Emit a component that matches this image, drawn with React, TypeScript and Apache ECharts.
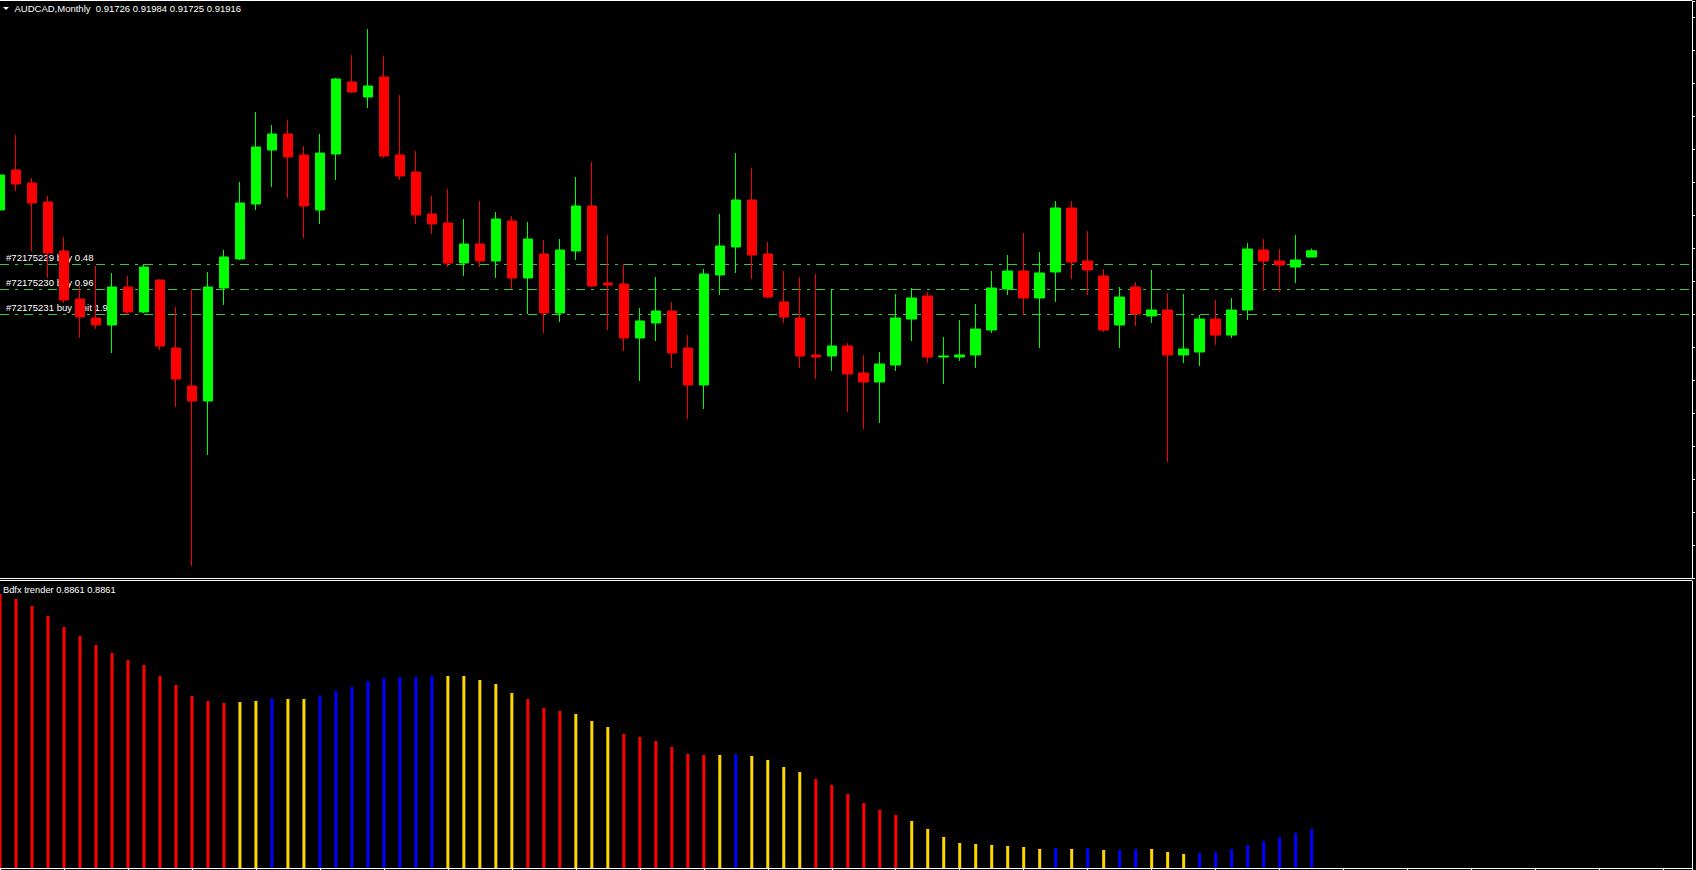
import React, { useEffect, useRef } from "react";
import * as echarts from "echarts";

// ---------- data ----------
const symbolName = "AUDCAD";
const periodName = "Monthly";

const opens = [
  0.93152, 0.94364, 0.9397, 0.93394, 0.91909, 0.90455, 0.89879, 0.89667, 0.90818, 0.90061,
  0.9103, 0.8897, 0.87818, 0.87364, 0.90788, 0.91667, 0.93333, 0.9497, 0.95455, 0.94818,
  0.93152, 0.94848, 0.9703, 0.96576, 0.97182, 0.94818, 0.94303, 0.9303, 0.92758, 0.91545,
  0.92121, 0.91606, 0.92818, 0.91091, 0.91818, 0.9003, 0.91909, 0.93273, 0.90939, 0.90909,
  0.89273, 0.89727, 0.90091, 0.8897, 0.87848, 0.91182, 0.9203, 0.93455, 0.91818, 0.90364,
  0.89879, 0.88758, 0.88727, 0.8903, 0.88212, 0.87939, 0.88455, 0.89848, 0.90545, 0.88697,
  0.88697, 0.88758, 0.89515, 0.90758, 0.91303, 0.90485, 0.91273, 0.93212, 0.91606, 0.91152,
  0.89667, 0.90818, 0.89939, 0.90121, 0.88758, 0.88848, 0.89848, 0.89364, 0.90121, 0.91939,
  0.91606, 0.91424, 0.91726,
];
const highs = [
  0.94273, 0.95424, 0.94121, 0.93576, 0.92333, 0.90848, 0.91455, 0.91242, 0.91152, 0.91515,
  0.9105, 0.90212, 0.90758, 0.91273, 0.91939, 0.94, 0.96121, 0.95727, 0.95879, 0.95091,
  0.95455, 0.97152, 0.97848, 0.98636, 0.97818, 0.96636, 0.94939, 0.93576, 0.93788, 0.92879,
  0.93424, 0.93091, 0.9297, 0.92788, 0.92242, 0.92273, 0.94152, 0.94606, 0.92394, 0.91515,
  0.90182, 0.91121, 0.90364, 0.89364, 0.91364, 0.9303, 0.94879, 0.94424, 0.92182, 0.91303,
  0.91121, 0.91212, 0.90758, 0.89121, 0.88758, 0.88848, 0.90606, 0.90788, 0.90667, 0.89303,
  0.89818, 0.90303, 0.91303, 0.91788, 0.92455, 0.91879, 0.93424, 0.93424, 0.92515, 0.91364,
  0.90818, 0.9097, 0.91333, 0.90636, 0.90606, 0.8997, 0.90424, 0.90485, 0.92152, 0.92273,
  0.9197, 0.92394, 0.91984,
];
const lows = [
  0.93091, 0.93727, 0.91909, 0.91091, 0.90333, 0.89273, 0.89545, 0.88818, 0.8997, 0.9003,
  0.88909, 0.87182, 0.82364, 0.85727, 0.90273, 0.91636, 0.93152, 0.93848, 0.93515, 0.92303,
  0.92727, 0.94061, 0.96697, 0.96242, 0.94727, 0.94061, 0.92727, 0.92424, 0.91424, 0.91152,
  0.91424, 0.91091, 0.90758, 0.9, 0.89424, 0.89758, 0.91636, 0.90818, 0.89515, 0.88879,
  0.8797, 0.89182, 0.88364, 0.86818, 0.87121, 0.90576, 0.91242, 0.91061, 0.90485, 0.89727,
  0.88364, 0.8803, 0.88273, 0.8703, 0.86515, 0.86697, 0.88273, 0.89182, 0.88515, 0.87879,
  0.88576, 0.88364, 0.89424, 0.90576, 0.8997, 0.8897, 0.90364, 0.91061, 0.90576, 0.89455,
  0.8897, 0.89636, 0.89727, 0.85515, 0.88515, 0.88424, 0.89061, 0.89273, 0.89818, 0.90697,
  0.90667, 0.90939, 0.91725,
];
const closes = [
  0.94212, 0.93939, 0.93364, 0.91848, 0.90424, 0.89909, 0.89667, 0.90818, 0.90061, 0.91424,
  0.8903, 0.8803, 0.87364, 0.90818, 0.91727, 0.93364, 0.95061, 0.95455, 0.94758, 0.93273,
  0.94879, 0.97121, 0.96727, 0.96909, 0.94788, 0.94182, 0.93, 0.92727, 0.91545, 0.92121,
  0.91606, 0.92879, 0.91091, 0.92273, 0.9003, 0.91939, 0.93273, 0.90848, 0.90879, 0.89273,
  0.89788, 0.90091, 0.88818, 0.87848, 0.91212, 0.92061, 0.93455, 0.91788, 0.90515, 0.89909,
  0.88727, 0.88697, 0.8903, 0.88182, 0.87939, 0.88485, 0.89879, 0.90485, 0.88697, 0.88727,
  0.88758, 0.89545, 0.90788, 0.91303, 0.90485, 0.91242, 0.93212, 0.91576, 0.91333, 0.89515,
  0.90515, 0.9, 0.90121, 0.88758, 0.88939, 0.89848, 0.89364, 0.90121, 0.9197, 0.91606,
  0.91485, 0.91636, 0.91916,
];

const orderLevels = [0.915, 0.9075, 0.9];
const orderLabels = ["#72175229 buy 0.48", "#72175230 buy 0.96", "#72175231 buy limit 1.92"];

const indicatorName = "Bdfx trender";
const trendValues = [
  0.9566, 0.9551, 0.953, 0.95, 0.9467, 0.944, 0.9413, 0.9389, 0.9368, 0.9353,
  0.932, 0.9293, 0.926, 0.9245, 0.9239, 0.9242, 0.9245, 0.9254, 0.9251, 0.9251,
  0.926, 0.9275, 0.9287, 0.9305, 0.9314, 0.9317, 0.9317, 0.932, 0.932, 0.932,
  0.9308, 0.9296, 0.9269, 0.9251, 0.9224, 0.9215, 0.9206, 0.9185, 0.9167, 0.9146,
  0.9137, 0.9125, 0.9107, 0.9086, 0.9083, 0.9083, 0.9086, 0.908, 0.9068, 0.9047,
  0.9032, 0.9011, 0.8993, 0.8966, 0.8939, 0.8918, 0.8903, 0.8885, 0.8861, 0.8837,
  0.8819, 0.8816, 0.8813, 0.881, 0.8807, 0.8801, 0.8804, 0.8801, 0.8804, 0.8798,
  0.8798, 0.8801, 0.8801, 0.8792, 0.8786, 0.8789, 0.8792, 0.8801, 0.8813, 0.8825,
  0.8837, 0.8849, 0.8861,
];
// D = falling (red), F = flat (gold), U = rising (blue)
const trendStates = [
  "D", "D", "D", "D", "D", "D", "D", "D", "D", "D",
  "D", "D", "D", "D", "D", "F", "F", "U", "F", "F",
  "U", "U", "U", "U", "U", "U", "U", "U", "F", "F",
  "F", "F", "F", "D", "D", "D", "F", "F", "F", "D",
  "D", "D", "D", "D", "D", "F", "U", "F", "F", "F",
  "F", "D", "D", "D", "D", "D", "D", "F", "F", "F",
  "F", "F", "F", "F", "F", "F", "U", "F", "U", "F",
  "U", "U", "F", "F", "F", "U", "U", "U", "U", "U",
  "U", "U", "U",
];

// ---------- styling / layout ----------
const FONT = '"Liberation Sans", Arial, sans-serif';
const UP = "#00FF00";
const DOWN = "#FF0000";
const ORDER_COLOR = "#32CD32";
const STATE_COLORS: Record<string, string> = { D: "#FF0000", F: "#FFD700", U: "#0000FF" };

const PLOT_LEFT = -0.5;
const PLOT_WIDTH = 1692.5;
const BAR_STEP = 16;
const X_MAX = PLOT_WIDTH / BAR_STEP;

const MAIN_TOP = 1;
const MAIN_H = 577;
const PRICE_MIN = 0.82;
const PRICE_MAX = PRICE_MIN + MAIN_H / 3300;

const IND_TOP = 581;
const IND_H = 287;
const IND_MIN = 0.8744;
const IND_MAX = IND_MIN + IND_H * 0.0003;

function buildOption() {
  const n = opens.length;
  const candleData = opens.map((o, i) => [i, o, closes[i], lows[i], highs[i]]);
  const trendData = trendValues.map((v, i) => ({
    value: [i, v],
    itemStyle: { color: STATE_COLORS[trendStates[i]] },
  }));
  const last = n - 1;
  const title = `${symbolName},${periodName}  ${opens[last].toFixed(5)} ${highs[last].toFixed(5)} ${lows[last].toFixed(5)} ${closes[last].toFixed(5)}`;
  const indTitle = `${indicatorName} ${trendValues[last].toFixed(4)} ${trendValues[last].toFixed(4)}`;

  const white = { color: "#ffffff", width: 1 };
  const hiddenLabel = { show: false };
  const noSplit = { show: false };

  return {
    animation: false,
    backgroundColor: "#000000",
    grid: [
      { left: PLOT_LEFT, top: MAIN_TOP, width: PLOT_WIDTH, height: MAIN_H },
      { left: PLOT_LEFT, top: IND_TOP, width: PLOT_WIDTH, height: IND_H },
    ],
    xAxis: [
      {
        type: "value",
        gridIndex: 0,
        min: 0,
        max: X_MAX,
        axisLine: { show: true, onZero: false, lineStyle: white },
        axisTick: { show: false },
        axisLabel: hiddenLabel,
        splitLine: noSplit,
      },
      {
        type: "value",
        gridIndex: 1,
        min: 0,
        max: X_MAX,
        interval: 4,
        axisLine: { show: true, onZero: false, lineStyle: white },
        axisTick: { show: true, length: 3, lineStyle: white },
        axisLabel: hiddenLabel,
        splitLine: noSplit,
      },
    ],
    yAxis: [
      {
        type: "value",
        gridIndex: 0,
        position: "right",
        min: PRICE_MIN,
        max: PRICE_MAX,
        interval: 0.01,
        axisLine: { show: true, onZero: false, lineStyle: white },
        axisTick: { show: true, length: 3, lineStyle: white },
        axisLabel: hiddenLabel,
        splitLine: noSplit,
      },
      {
        type: "value",
        gridIndex: 1,
        position: "right",
        min: IND_MIN,
        max: IND_MAX,
        axisLine: { show: true, onZero: false, lineStyle: white },
        axisTick: { show: false },
        axisLabel: hiddenLabel,
        splitLine: noSplit,
      },
    ],
    series: [
      {
        type: "candlestick",
        xAxisIndex: 0,
        yAxisIndex: 0,
        data: candleData,
        encode: { x: 0, y: [1, 2, 3, 4] },
        barWidth: 10,
        z: 3,
        itemStyle: {
          color: UP,
          color0: DOWN,
          borderColor: UP,
          borderColor0: DOWN,
          borderWidth: 1,
        },
        markLine: {
          silent: true,
          symbol: ["none", "none"],
          precision: 5,
          z: 1,
          animation: false,
          data: [
            ...orderLevels.map((lv, k) => ({
              yAxis: lv,
              lineStyle: { color: ORDER_COLOR, width: 1, type: [9, 6, 3, 6], opacity: 1 },
              label: {
                show: true,
                position: "insideStartTop",
                formatter: orderLabels[k],
                color: "#ffffff",
                fontSize: 9.6,
                fontFamily: FONT,
                distance: [6, 2],
              },
            })),
            {
              yAxis: closes[last],
              lineStyle: { opacity: 0 },
              label: {
                show: true,
                position: "end",
                formatter: "\u00a0",
                color: "#000000",
                backgroundColor: "#ffffff",
                padding: [1, 2],
                fontSize: 9,
                fontFamily: FONT,
                distance: 1,
              },
            },
          ],
        },
      },
      {
        type: "bar",
        xAxisIndex: 1,
        yAxisIndex: 1,
        data: trendData,
        barWidth: 3,
        clip: true,
      },
    ],
    graphic: [
      {
        type: "line",
        silent: true,
        shape: { x1: 0, y1: 0.5, x2: 1692, y2: 0.5 },
        style: { stroke: "#ffffff", lineWidth: 1 },
      },
      {
        type: "line",
        silent: true,
        shape: { x1: 0, y1: 580.5, x2: 1692, y2: 580.5 },
        style: { stroke: "#ffffff", lineWidth: 1 },
      },
      {
        type: "polygon",
        silent: true,
        shape: { points: [[3, 7], [9, 7], [6, 10]] },
        style: { fill: "#ffffff" },
      },
      {
        type: "text",
        silent: true,
        x: 14.5,
        y: 8.5,
        style: {
          text: title,
          fill: "#ffffff",
          font: `9.5px ${FONT}`,
          textAlign: "left",
          textVerticalAlign: "middle",
          align: "left",
          verticalAlign: "middle",
        },
      },
      {
        type: "text",
        silent: true,
        x: 3,
        y: 590,
        style: {
          text: indTitle,
          fill: "#ffffff",
          font: `9.3px ${FONT}`,
          textAlign: "left",
          textVerticalAlign: "middle",
          align: "left",
          verticalAlign: "middle",
        },
      },
    ],
  };
}

export default function App() {
  const ref = useRef<HTMLDivElement>(null);
  useEffect(() => {
    if (!ref.current) return;
    const chart = echarts.init(ref.current, null, { renderer: "svg" });
    chart.setOption(buildOption() as any);
    return () => {
      chart.dispose();
    };
  }, []);
  return (
    <div
      ref={ref}
      style={{
        position: "fixed",
        left: 0,
        top: 0,
        width: 1696,
        height: 870,
        background: "#000",
      }}
    />
  );
}
